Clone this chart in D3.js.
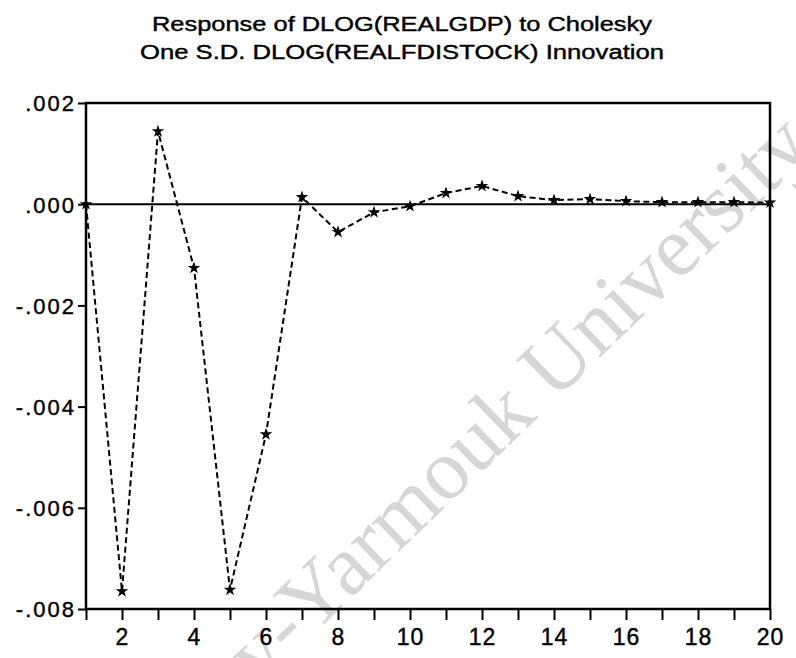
<!DOCTYPE html>
<html>
  <head>
    <title>impulse response</title>
    <meta http-equiv="Content-Type" content="text/html; charset=UTF-8">
    <script src="https://d3js.org/d3.v7.min.js"></script>
    <style>
      body { margin: 0; background: #fff; }
      text { font-family: "Liberation Sans", Arial, sans-serif; fill: #000; }
    </style>
  </head>

  <body>

    <div id="chart">
    </div>

    <script>
      // periods 1..20 and the response
      var periods = d3.range(1, 21);
      var response = [0.00000, -0.00765, 0.00144, -0.00126, -0.00762, -0.00455, 0.00014, -0.00055, -0.00016, -0.00004,
                      0.00022, 0.00036, 0.00016, 0.00008, 0.00010, 0.00006, 0.00004, 0.00004, 0.00004, 0.00003];
      var yTicks = [0.002, 0.000, -0.002, -0.004, -0.006, -0.008];
      var xLabels = [2, 4, 6, 8, 10, 12, 14, 16, 18, 20];
      var titleLines = ["Response of DLOG(REALGDP) to Cholesky", "One S.D. DLOG(REALFDISTOCK) Innovation"];

      var width = 796, height = 658;
      var plotLeft = 86, plotRight = 770, plotTop = 103, plotBottom = 609;

      var svg = d3.select("#chart").append("svg").attr("width", width).attr("height", height)

      // faint scan watermark
      svg.append("text")
        .attr("transform", "translate(815,150) rotate(-44)")
        .attr("text-anchor", "end")
        .style("font-family", "'Liberation Serif', serif")
        .style("font-size", "86px")
        .style("fill", "#d6d6d6")
        .text("Library-Yarmouk University");

      var x = d3.scaleLinear().domain([1, 20]).range([plotLeft, plotRight]);
      var y = d3.scaleLinear().domain([-0.008, 0.002]).range([plotBottom, plotTop]);

      // title, the scan is stretched sideways so fit each line to its width
      var titleBox = [[152, 652, 31], [140, 664, 59]];
      svg.selectAll(".title").data(titleLines).enter().append("text")
        .attr("class", "title")
        .attr("x", function(d, i) { return titleBox[i][0]; })
        .attr("y", function(d, i) { return titleBox[i][2]; })
        .attr("textLength", function(d, i) { return titleBox[i][1] - titleBox[i][0]; })
        .attr("lengthAdjust", "spacingAndGlyphs")
        .style("font-size", "20px")
        .style("stroke", "#000").style("stroke-width", 0.4)
        .text(function(d) { return d; });

      var fmt = function(v) { return d3.format(".3f")(v).replace("0.", ".").replace("\u2212", "-"); };

      var yAxis = svg.append("g").attr("transform", "translate(" + plotLeft + ",0)")
        .call(d3.axisLeft(y).tickValues(yTicks).tickFormat(fmt).tickSize(8).tickPadding(2));

      var xAxis = svg.append("g").attr("transform", "translate(0," + plotBottom + ")")
        .call(d3.axisBottom(x).tickValues(periods)
          .tickFormat(function(d) { return xLabels.indexOf(d) >= 0 ? d : ""; })
          .tickSize(11).tickPadding(9));

      [yAxis, xAxis].forEach(function(g) {
        g.select(".domain").remove();
        g.selectAll(".tick line").attr("stroke", "#000").attr("stroke-width", 2);
        g.selectAll(".tick text").style("font-size", "22px").style("letter-spacing", "2px")
          .style("stroke", "#000").style("stroke-width", 0.4)
          .style("font-family", "'Liberation Sans', Arial, sans-serif");
      });
      yAxis.selectAll(".tick text").attr("dy", "0.36em");
      xAxis.selectAll(".tick text").style("font-size", "23px").style("letter-spacing", "1px");

      // zero line
      svg.append("line")
        .attr("x1", plotLeft).attr("x2", plotRight)
        .attr("y1", y(0)).attr("y2", y(0))
        .attr("stroke", "#000").attr("stroke-width", 2);

      // frame
      svg.append("rect")
        .attr("x", plotLeft).attr("y", plotTop)
        .attr("width", plotRight - plotLeft).attr("height", plotBottom - plotTop)
        .attr("fill", "none").attr("stroke", "#000").attr("stroke-width", 2.5);

      var line = d3.line()
        .x(function(d, i) { return x(periods[i]); })
        .y(function(d) { return y(d); });

      svg.append("path")
        .datum(response)
        .attr("d", line)
        .attr("fill", "none")
        .attr("stroke", "#000")
        .attr("stroke-width", 2)
        .attr("stroke-dasharray", "6,3.5");

      svg.selectAll(".pt").data(response).enter().append("path")
        .attr("class", "pt")
        .attr("transform", function(d, i) { return "translate(" + x(periods[i]) + "," + y(d) + ")"; })
        .attr("d", d3.symbol().type(d3.symbolStar).size(50))
        .attr("fill", "#000");
    </script>
  </body>
</html>
